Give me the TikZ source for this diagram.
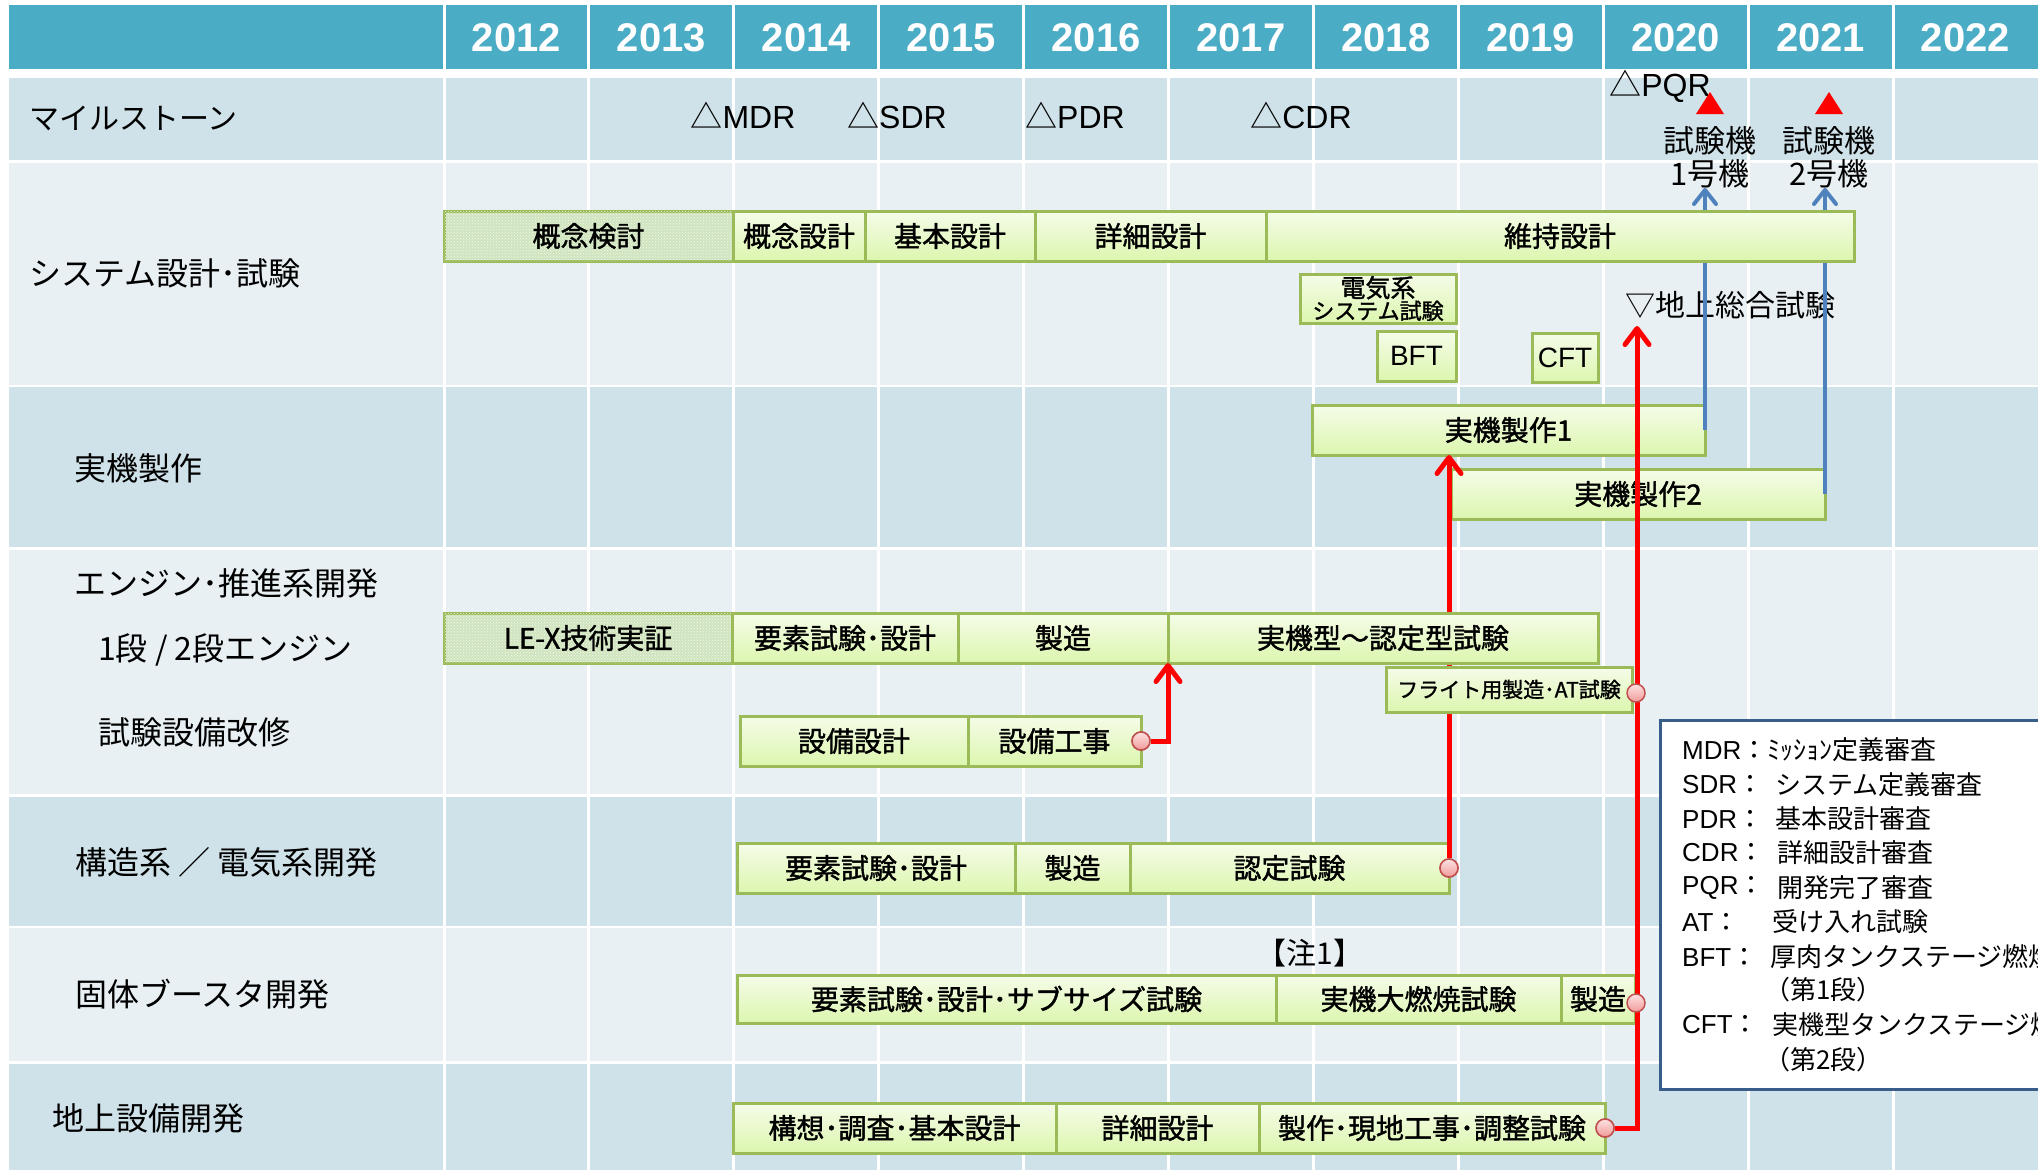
\documentclass[tikz,border=0pt]{standalone}
\usepackage{fontspec}
\setmainfont{Noto Sans CJK JP}
\newfontfamily\jmed{Noto Sans CJK JP}[FakeBold=1.4]
\newfontfamily\lat{Liberation Sans}
\usetikzlibrary{arrows.meta,patterns}
\definecolor{hdr}{HTML}{4BACC6}
\definecolor{rowd}{HTML}{D0E2E9}
\definecolor{rowl}{HTML}{E8F0F3}
\definecolor{gbord}{HTML}{9BBB59}
\definecolor{gtop}{HTML}{F5FCE9}
\definecolor{gbot}{HTML}{DCF6AE}
\definecolor{pfill}{HTML}{D0E4BE}
\definecolor{lblue}{HTML}{4F81BD}
\definecolor{lgbord}{HTML}{385D8A}
\definecolor{ctop}{HTML}{FDE2E2}
\definecolor{cbot}{HTML}{F09A9A}
\definecolor{cbord}{HTML}{C0504D}
\newcommand\setfs[1]{\fontsize{#1}{#1}\selectfont}
\tikzset{
  barbase/.style={draw=gbord, line width=3pt, inner sep=0pt, outer sep=0pt, align=center, font=\jmed\setfs{28}},
  gbar/.style={barbase, top color=gtop, bottom color=gbot},
  pbar/.style={barbase, fill=pfill, postaction={pattern=crosshatch dots, pattern color=white!75!pfill}},
  yr/.style={text=white, font=\lat\bfseries\setfs{40}, inner sep=0pt},
  lbl/.style={anchor=west, inner sep=0pt, font=\setfs{32}},
  ms/.style={inner sep=0pt, font=\setfs{32}},
  lg/.style={anchor=west, inner sep=0pt, font=\setfs{26}},
  dot/.style={circle, draw=cbord, line width=1.5pt, inner sep=0pt, minimum size=18pt, top color=ctop, bottom color=cbot},
  redarr/.style={red, line width=5pt, -{Straight Barb[length=16pt, width=24pt, round]}},
  bluearr/.style={lblue, line width=4pt, -{Straight Barb[length=14pt, width=22pt, round]}},
}
\newcommand\mkbar[7][gbar]{%
  \node[#1, minimum width={(#5-#3)*1pt}, minimum height={(#6-#4)*1pt}] (#2) at ({(#3+#5)/2},{(#4+#6)/2}) {#7};}
\begin{document}
\begin{tikzpicture}[x=1pt,y=-1pt]
\path[use as bounding box] (0,0) rectangle (2038,1170);
\clip (0,0) rectangle (2038,1170);
\fill[white] (0,0) rectangle (2038,1170);
% rows
\fill[hdr] (9,5) rectangle (2038,69);
\fill[rowd] (9,78) rectangle (2038,160);
\fill[rowl] (9,163) rectangle (2038,385);
\fill[rowd] (9,387) rectangle (2038,547);
\fill[rowl] (9,550) rectangle (2038,794);
\fill[rowd] (9,797) rectangle (2038,926);
\fill[rowl] (9,928) rectangle (2038,1061);
\fill[rowd] (9,1064) rectangle (2038,1170);
\foreach \i in {0,...,10} \draw[white,line width=3pt] ({444+144.9*\i},0) -- ({444+144.9*\i},1170);
% years
\foreach \yy [count=\i from 0] in {2012,...,2022}
  \node[yr] (y\yy) at ({444+144.9*(\i+0.5)},38) {\yy};
% row labels
\node[lbl, font=\setfs{30}] (l1) at (29,118) {マイルストーン};
\node[lbl] (l2) at (29,273) {システム設計･試験};
\node[lbl] (l3) at (74,468) {実機製作};
\node[lbl] (l4) at (74,583) {エンジン･推進系開発};
\node[lbl] (l5) at (98,650) {1段 / 2段エンジン};
\node[lbl] (l6) at (98,732) {試験設備改修};
\node[lbl] (l7) at (75,862) {構造系 ／ 電気系開発};
\node[lbl] (l8) at (75,994) {固体ブースタ開発};
\node[lbl] (l9) at (52,1118) {地上設備開発};
% milestones
\node[ms] (m1) at (743,115) {△{\lat MDR}};
\node[ms] (m2) at (897,115) {△{\lat SDR}};
\node[ms] (m3) at (1075,115) {△{\lat PDR}};
\node[ms] (m4) at (1301,115) {△{\lat CDR}};
\node[ms] (m5) at (1660,86) {△{\lat PQR}};
\fill[red] (1696,114) -- (1724,114) -- (1710,92) -- cycle;
\fill[red] (1815,114) -- (1843,114) -- (1829,92) -- cycle;
\node[inner sep=0pt, align=center, font=\fontsize{31}{33}\selectfont] (t1) at (1710,157) {試験機\\1号機};
\node[inner sep=0pt, align=center, font=\fontsize{31}{33}\selectfont] (t2) at (1829,157) {試験機\\2号機};
\node[lbl, font=\setfs{30}] (gt) at (1625,305) {▽地上総合試験};
\node[inner sep=0pt, font=\setfs{30}] (n1) at (1310,953) {【注1】};
\coordinate (gtip) at (1637,326);
% bars with connectors running behind them
\mkbar{jk1}{1312}{405}{1705}{455}{実機製作1}
\mkbar{jk2}{1451}{469}{1825}{519}{実機製作2}
\draw[bluearr] (jk1.east) -- (jk1.east |- t1.south);
\draw[bluearr] (jk2.east) -- (jk2.east |- t2.south);
\mkbar{kn}{1130}{843}{1449}{893}{認定試験}
\node[dot] (d2) at (kn.east) {};
\draw[redarr] (d2.north) -- (d2.north |- jk1.south);
% system row
\mkbar[pbar]{kk}{444}{211}{733}{261}{概念検討}
\mkbar{kg}{733}{211}{865}{261}{概念設計}
\mkbar{kh}{865}{211}{1035}{261}{基本設計}
\mkbar{kd}{1035}{211}{1266}{261}{詳細設計}
\mkbar{ij}{1266}{211}{1854}{261}{維持設計}
\node[barbase, top color=gtop, bottom color=gbot, minimum width=156pt, minimum height=49pt, font=\jmed\fontsize{22}{23}\selectfont] (ds) at (1378,298.5) {{\fontsize{25}{23}\selectfont 電気系}\\[-1pt]システム試験};
\mkbar{bft}{1377}{331}{1456}{381}{\lat BFT}
\mkbar{cft}{1532}{333}{1598}{382}{\lat CFT}
% engine row
\mkbar[pbar]{lex}{444}{613}{732}{663}{LE-X技術実証}
\mkbar{ey}{732}{613}{958}{663}{要素試験･設計}
\mkbar{es}{958}{613}{1168}{663}{製造}
\mkbar{ej}{1168}{613}{1598}{663}{実機型～認定型試験}
\node[barbase, top color=gtop, bottom color=gbot, minimum width=246pt, minimum height=45pt, font=\jmed\setfs{21}] (fl) at (1509,689.5) {フライト用製造･AT試験};
\mkbar{sb1}{740}{716}{968}{766}{設備設計}
\mkbar{sb2}{968}{716}{1141}{766}{設備工事}
% structure row
\mkbar{ky}{737}{843}{1015}{893}{要素試験･設計}
\mkbar{kz}{1015}{843}{1130}{893}{製造}
% solid booster row
\mkbar{ko1}{737}{975}{1276}{1023}{要素試験･設計･サブサイズ試験}
\mkbar{ko2}{1276}{975}{1561}{1023}{実機大燃焼試験}
\mkbar{ko3}{1561}{975}{1635}{1023}{製造}
% ground row
\mkbar{c1}{733}{1103}{1056}{1153}{構想･調査･基本設計}
\mkbar{c2}{1056}{1103}{1259}{1153}{詳細設計}
\mkbar{c3}{1259}{1103}{1605}{1153}{製作･現地工事･調整試験}
% red connectors
\node[dot] (d1) at (sb2.east) {};
\draw[redarr] (d1.east) -| (es.south east);
\node[dot] (d5) at (c3.east) {};
\draw[redarr] (d5.east) -| (gtip);
\node[dot] (d3) at (1636,693) {};
\node[dot] (d4) at (1636,1003) {};
\node[dot] at (d1) {};
\node[dot] at (d2) {};
\node[dot] at (d5) {};
% legend
\draw[lgbord, line width=3pt, fill=white] (1660,720) rectangle (2060,1089);
\node[lg] (g1) at (1682,750) {{\lat MDR}：ﾐｯｼｮﾝ定義審査};
\node[lg] (g2) at (1682,785) {{\lat SDR}：};
\node[lg] (g2b) at (1775,785) {システム定義審査};
\node[lg] (g3) at (1682,819) {{\lat PDR}：};
\node[lg] (g3b) at (1775,819) {基本設計審査};
\node[lg] (g4) at (1682,853) {{\lat CDR}：};
\node[lg] (g4b) at (1777,853) {詳細設計審査};
\node[lg] (g5) at (1682,888) {{\lat PQR}：};
\node[lg] (g5b) at (1777,888) {開発完了審査};
\node[lg] (g6) at (1682,922) {{\lat AT}：};
\node[lg] (g6b) at (1772,922) {受け入れ試験};
\node[lg] (g7) at (1682,957) {{\lat BFT}：};
\node[lg] (g7b) at (1770,957) {厚肉タンクステージ燃焼};
\node[lg] (g8) at (1764,990) {（第1段）};
\node[lg] (g9) at (1682,1025) {{\lat CFT}：};
\node[lg] (g9b) at (1772,1025) {実機型タンクステージ燃焼};
\node[lg] (g10) at (1764,1060) {（第2段）};
\end{tikzpicture}
\end{document}
